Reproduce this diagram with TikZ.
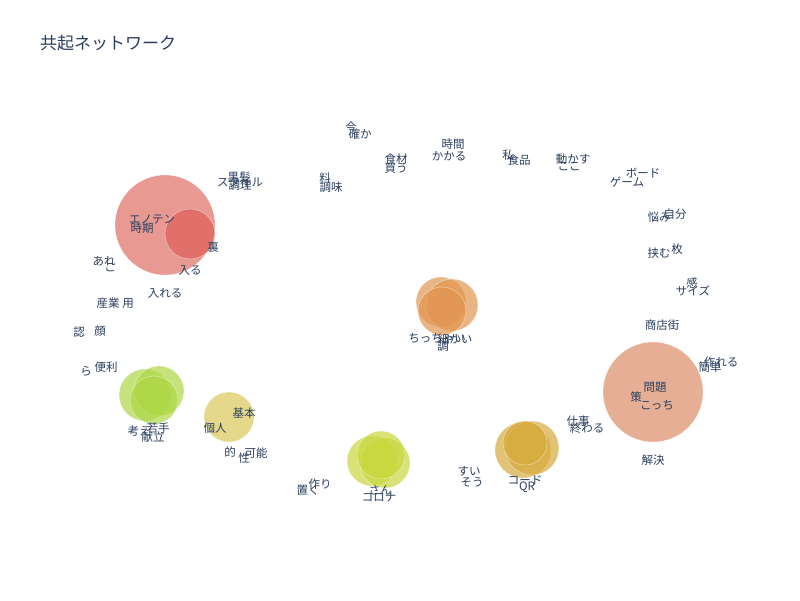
\documentclass[tikz,border=0pt]{standalone}
\usepackage{fontspec}
\setmainfont{Noto Sans CJK JP}
\begin{document}
\begin{tikzpicture}[x=1pt,y=-1pt,
  lbl/.style={text=txt,font=\fontsize{11.5}{12}\selectfont,inner sep=0pt},
  edge/.style={draw=black!12,line width=0.5pt},
  bub/.style={circle,inner sep=0pt,draw=white,line width=0.4pt,fill opacity=0.7,draw opacity=0.6}]
\definecolor{txt}{HTML}{2A3F5F}
\definecolor{cred}{RGB}{222,110,100}
\definecolor{cred2}{RGB}{222,95,88}
\definecolor{corg}{RGB}{226,150,80}
\definecolor{csal}{RGB}{220,140,105}
\definecolor{cgold}{RGB}{215,170,60}
\definecolor{cyg}{RGB}{200,215,60}
\definecolor{clg}{RGB}{175,215,70}
\definecolor{cyel}{RGB}{218,200,90}
\pgfdeclarelayer{bg}\pgfsetlayers{bg,main}
\fill[white] (0,0) rectangle (800,600);
\useasboundingbox (0,0) rectangle (800,600);
\node[anchor=west,text=txt,font=\fontsize{17}{19}\selectfont,inner sep=0pt] (title) at (40,43) {共起ネットワーク};
% bubbles
\node[bub,fill=cred,minimum size=100pt] (b1) at (165,225) {};
\node[bub,fill=cred2,minimum size=50pt] (b2) at (190,234) {};
\node[bub,fill=corg,minimum size=50pt] (b3) at (441,302) {};
\node[bub,fill=corg,minimum size=52pt] (b4) at (452,305) {};
\node[bub,fill=corg,minimum size=48pt] (b5) at (442,311) {};
\node[bub,fill=csal,minimum size=100pt] (b6) at (653,392) {};
\node[bub,fill=cgold,minimum size=56pt] (b7) at (523,450) {};
\node[bub,fill=cgold,minimum size=54pt] (b8) at (532,448) {};
\node[bub,fill=cgold,minimum size=44pt] (b9) at (525,443) {};
\node[bub,fill=cyg,minimum size=50pt] (b10) at (372,461) {};
\node[bub,fill=cyg,minimum size=50pt] (b11) at (385,463) {};
\node[bub,fill=cyg,minimum size=48pt] (b12) at (381,455) {};
\node[bub,fill=clg,minimum size=52pt] (b13) at (145,395) {};
\node[bub,fill=clg,minimum size=50pt] (b14) at (159,391) {};
\node[bub,fill=clg,minimum size=48pt] (b15) at (154,400) {};
\node[bub,fill=cyel,minimum size=50pt] (b16) at (229,417) {};
% labels
\node[lbl] (ima) at (351,127) {今};
\node[lbl] (tashika) at (360,134) {確か};
\node[lbl] (jikan) at (453,144) {時間};
\node[lbl] (kakaru) at (449,156) {かかる};
\node[lbl] (shokuzai) at (396,159) {食材};
\node[lbl] (kau) at (396,168) {買う};
\node[lbl] (ryo) at (325,178) {料};
\node[lbl] (chomi) at (331,187) {調味};
\node[lbl] (watashi) at (508,155) {私};
\node[lbl] (shokuhin) at (519,160) {食品};
\node[lbl] (ugokasu) at (573,159) {動かす};
\node[lbl] (koko) at (569,167) {ここ};
\node[lbl] (board) at (643,173) {ボード};
\node[lbl] (game) at (627,182) {ゲーム};
\node[lbl] (nayami) at (659,217) {悩み};
\node[lbl] (jibun) at (675,214) {自分};
\node[lbl] (hasamu) at (659,253) {挟む};
\node[lbl] (mai) at (677,249) {枚};
\node[lbl] (kan) at (692,283) {感};
\node[lbl] (size) at (693,291) {サイズ};
\node[lbl] (shoten) at (662,325) {商店街};
\node[lbl] (tsukureru) at (721,362) {作れる};
\node[lbl] (kantan) at (710,367) {簡単};
\node[lbl] (mondai) at (655,387) {問題};
\node[lbl] (saku) at (636,397) {策};
\node[lbl] (kocchi) at (657,405) {こっち};
\node[lbl] (kaiketsu) at (653,460) {解決};
\node[lbl] (shigoto) at (578,421) {仕事};
\node[lbl] (owaru) at (587,428) {終わる};
\node[lbl] (sui) at (469,471) {すい};
\node[lbl] (sou) at (472,482) {そう};
\node[lbl] (code) at (525,480) {コード};
\node[lbl] (qr) at (527,487) {QR};
\node[lbl] (san) at (380,490) {さん};
\node[lbl] (corona) at (379,497) {コロナ};
\node[lbl] (oku) at (308,490) {置く};
\node[lbl] (tsukuri) at (320,484) {作り};
\node[lbl] (teki) at (230,452) {的};
\node[lbl] (sei) at (244,458) {性};
\node[lbl] (kanou) at (256,453) {可能};
\node[lbl] (kihon) at (244,413) {基本};
\node[lbl] (kojin) at (215,428) {個人};
\node[lbl] (kangae) at (139,431) {考え};
\node[lbl] (wakate) at (158,428) {若手};
\node[lbl] (kondate) at (153,437) {献立};
\node[lbl] (ra) at (86,371) {ら};
\node[lbl] (benri) at (106,367) {便利};
\node[lbl] (nin) at (79,332) {認};
\node[lbl] (kao) at (100,331) {顔};
\node[lbl] (sangyo) at (108,303) {産業};
\node[lbl] (you) at (128,304) {用};
\node[lbl] (ireru) at (165,293) {入れる};
\node[lbl] (hairu) at (190,270) {入る};
\node[lbl] (ura) at (213,247) {裏};
\node[lbl] (are) at (104,261) {あれ};
\node[lbl] (ko) at (110,268) {こ};
\node[lbl] (enoten) at (152,219) {エノテン};
\node[lbl] (jiki) at (142,228) {時期};
\node[lbl] (style) at (240,182) {スタイル};
\node[lbl] (kurokami) at (239,177) {黒髪};
\node[lbl] (chori) at (240,185) {調理};
\node[lbl] (chiccha) at (437,338) {ちっちゃい};
\node[lbl] (komakai) at (455,339) {細かい};
\node[lbl] (cho) at (443,346) {調};
% edges
\begin{pgfonlayer}{bg}
\draw[edge] (nin.center) -- (kao.center);
\draw[edge] (ra.center) -- (benri.center);
\draw[edge] (sangyo.center) -- (you.center);
\draw[edge] (are.center) -- (ko.center);
\draw[edge] (enoten.center) -- (jiki.center);
\draw[edge] (ima.center) -- (tashika.center);
\draw[edge] (jikan.center) -- (kakaru.center);
\draw[edge] (shokuzai.center) -- (kau.center);
\draw[edge] (ryo.center) -- (chomi.center);
\draw[edge] (watashi.center) -- (shokuhin.center);
\draw[edge] (ugokasu.center) -- (koko.center);
\draw[edge] (board.center) -- (game.center);
\draw[edge] (nayami.center) -- (jibun.center);
\draw[edge] (hasamu.center) -- (mai.center);
\draw[edge] (kan.center) -- (size.center);
\draw[edge] (tsukureru.center) -- (kantan.center);
\draw[edge] (mondai.center) -- (kocchi.center);
\draw[edge] (saku.center) -- (kocchi.center);
\draw[edge] (shigoto.center) -- (owaru.center);
\draw[edge] (sui.center) -- (sou.center);
\draw[edge] (code.center) -- (qr.center);
\draw[edge] (san.center) -- (corona.center);
\draw[edge] (oku.center) -- (tsukuri.center);
\draw[edge] (teki.center) -- (sei.center);
\draw[edge] (sei.center) -- (kanou.center);
\draw[edge] (kihon.center) -- (kojin.center);
\draw[edge] (kangae.center) -- (wakate.center);
\draw[edge] (wakate.center) -- (kondate.center);
\draw[edge] (style.center) -- (chori.center);
\draw[edge] (chiccha.center) -- (komakai.center);
\end{pgfonlayer}
\end{tikzpicture}
\end{document}
